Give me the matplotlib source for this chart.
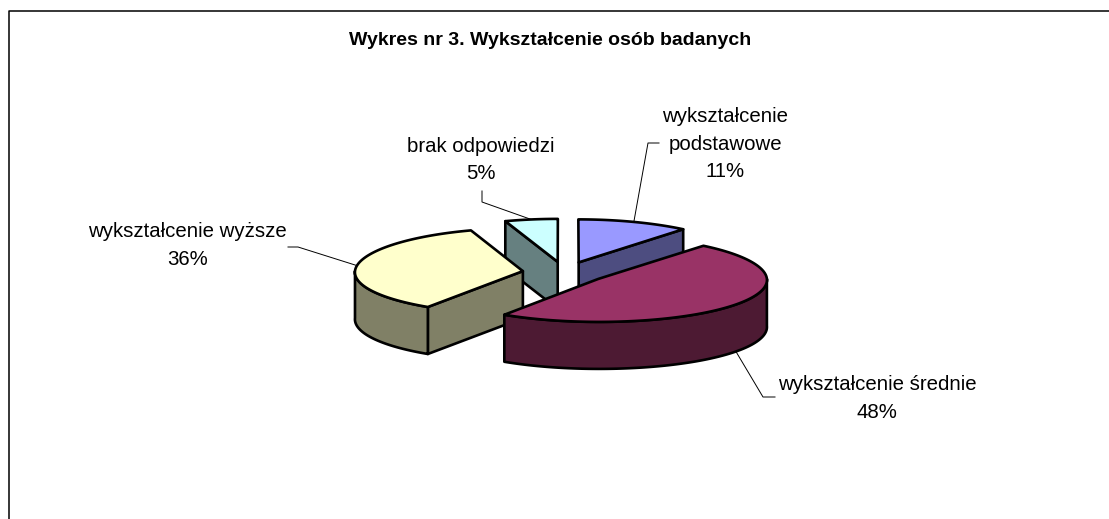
import numpy as np
import matplotlib
matplotlib.use("Agg")
import matplotlib.pyplot as plt
from matplotlib.patches import Polygon

categories = ["wykształcenie\npodstawowe", "wykształcenie średnie", "wykształcenie wyższe", "brak odpowiedzi"]
values = [11.0, 48.3, 35.5, 5.2]
top_colors = ["#9999FF", "#993366", "#FFFFCC", "#CCFFFF"]
side_colors = ["#4D4D80", "#4D1A33", "#808066", "#668080"]
title = "Wykres nr 3. Wykształcenie osób badanych"

W, H = 1109, 519
CX, CY, A, B, DEPTH, EXPLODE = 564.5, 272.5, 168, 43, 47, 0.25
PERSP = 0.0005
LW = 1.9

label_pos = [(725, 144), (877, 398.5), (187.5, 245.5), (481, 160)]
elbows = [((648, 143), (659, 143)), ((763, 397), (775, 397)), ((298, 247), (288, 247)), ((482, 202), (482, 191))]
draw_order = [3, 0, 2, 1]

plt.rcParams["font.family"] = ["Liberation Sans", "DejaVu Sans"]
fig = plt.figure(figsize=(W / 100, H / 100), dpi=100)
ax = fig.add_axes([0, 0, 1, 1])
ax.set_xlim(0, W)
ax.set_ylim(H, 0)
ax.axis("off")

ax.plot([8.5, 8.5, W], [H, 10.5, 10.5], color="black", lw=1.1, solid_capstyle="butt", zorder=1)
ax.text(550, 40.5, title, ha="center", va="center", fontsize=14, fontweight="bold")

fr = np.array(values) / sum(values) * 2 * np.pi
ends = np.cumsum(fr)
starts = ends - fr

def persp(x, y):
    return CX + (x - CX) * (1 + PERSP * (y - CY)), y

def pt(apex, th):
    return np.array(persp(apex[0] + A * np.sin(th), apex[1] - B * np.cos(th)))

def arc(apex, t0, t1):
    ts = np.linspace(t0, t1, 120)
    return np.column_stack(persp(apex[0] + A * np.sin(ts), apex[1] - B * np.cos(ts)))

def face(points, color, z):
    ax.add_patch(Polygon(points, closed=True, facecolor=color, edgecolor="black", lw=LW, joinstyle="round", zorder=z))

apexes = []
for s, e in zip(starts, ends):
    m = (s + e) / 2
    apexes.append((CX + EXPLODE * A * np.sin(m), CY - EXPLODE * B * np.cos(m)))

z = 2
down = np.array([0, DEPTH])
for i in draw_order:
    s, e, ap0 = starts[i], ends[i], apexes[i]
    ap = np.array(persp(*ap0))
    side = side_colors[i]
    # radial faces turned towards the viewer
    if np.cos(e) > 0 and np.sin(e) > 0:   # end radius on the right side
        p = pt(ap0, e)
        face([ap, p, p + down, ap + down], side, z)
    if np.sin(s) < 0:                     # start radius on the left side
        p = pt(ap0, s)
        face([ap, p, p + down, ap + down], side, z)
    # curved outer wall on the front half
    t0, t1 = max(s, np.pi / 2), min(e, 3 * np.pi / 2)
    if t1 > t0:
        top = arc(ap0, t0, t1)
        face(np.vstack([top, (top + down)[::-1]]), side, z)
    # top face
    face(np.vstack([[ap], arc(ap0, s, e)]), top_colors[i], z + 0.5)
    z += 1

for i, (cat, v) in enumerate(zip(categories, values)):
    ax.text(label_pos[i][0], label_pos[i][1], f"{cat}\n{round(v)}%", ha="center", va="center",
            fontsize=14.7, linespacing=1.56, zorder=20)
    m = (starts[i] + ends[i]) / 2
    st = pt(apexes[i], m) + (down if np.cos(m) < 0 else 0)
    (e1, e2) = elbows[i]
    ax.plot([st[0], e1[0], e2[0]], [st[1], e1[1], e2[1]], color="black", lw=0.7, zorder=1.5)

fig.savefig("out.png", dpi=100)
